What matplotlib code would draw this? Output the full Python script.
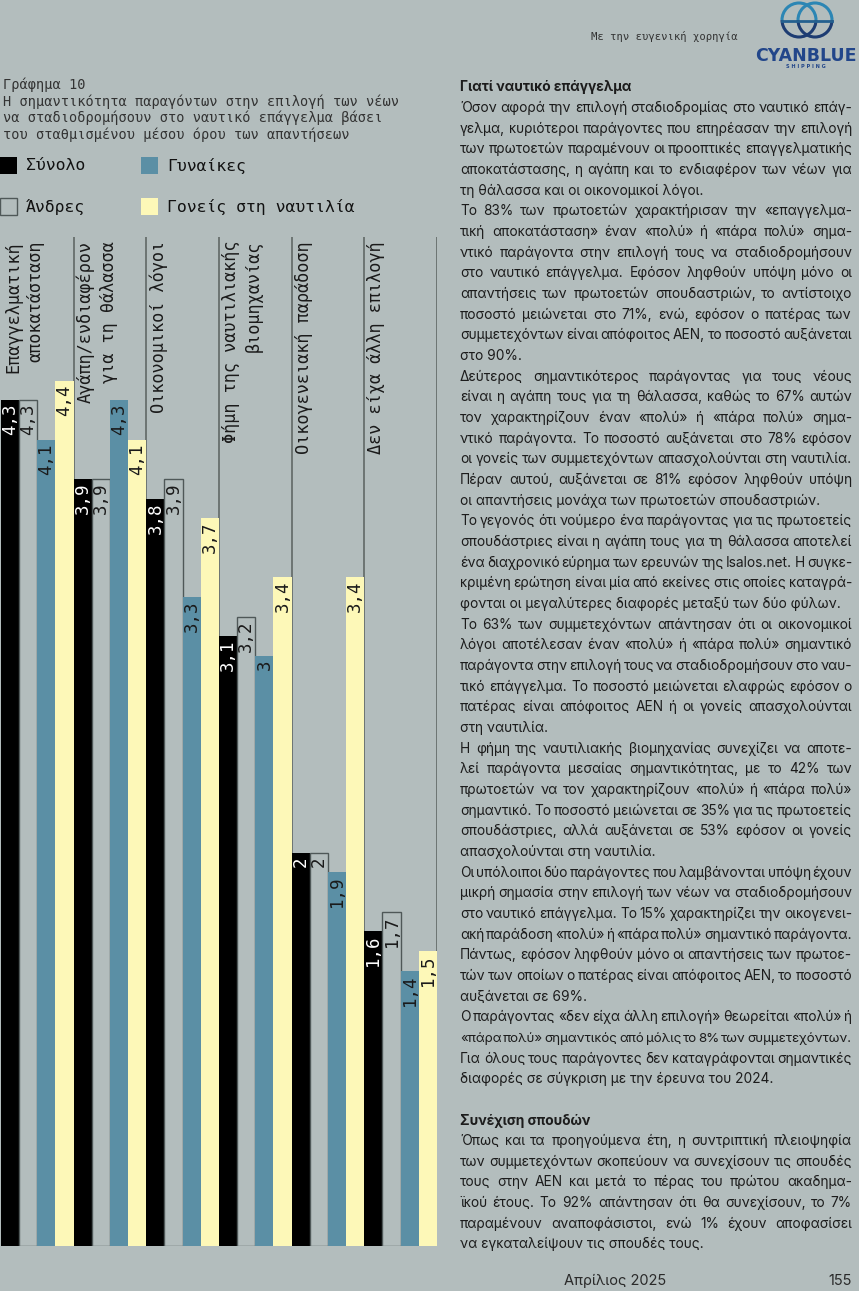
import numpy as np
import matplotlib.pyplot as plt
from matplotlib.patches import Rectangle, Arc
from matplotlib.font_manager import FontProperties

W, H = 859, 1291
BG = "#b3bdbd"

categories = ["Επαγγελματική\nαποκατάσταση",
              "Αγάπη/ενδιαφέρον\nγια τη θάλασσα",
              "Οικονομικοί λόγοι",
              "Φήμη της ναυτιλιακής\nβιομηχανίας",
              "Οικογενειακή παράδοση",
              "Δεν είχα άλλη επιλογή"]
series = ["Σύνολο", "Άνδρες", "Γυναίκες", "Γονείς στη ναυτιλία"]
synolo = [4.3, 3.9, 3.8, 3.1, 2.0, 1.6]
andres = [4.3, 3.9, 3.9, 3.2, 2.0, 1.7]
gynaikes = [4.1, 4.3, 3.3, 3.0, 1.9, 1.4]
goneis = [4.4, 4.1, 3.7, 3.4, 3.4, 1.5]

title = ("Γράφημα 10\n"
         "Η σημαντικότητα παραγόντων στην επιλογή των νέων\n"
         "να σταδιοδρομήσουν στο ναυτικό επάγγελμα βάσει\n"
         "του σταθμισμένου μέσου όρου των απαντήσεων")

# body text: (line, kind)  h = heading, j = justified, e = end of paragraph, "" = blank
body = [
    ("Γιατί ναυτικό επάγγελμα", "h"),
    ("Όσον αφορά την επιλογή σταδιοδρομίας στο ναυτικό επάγ-", "j"),
    ("γελμα, κυριότεροι παράγοντες που επηρέασαν την επιλογή", "j"),
    ("των πρωτοετών παραμένουν οι προοπτικές επαγγελματικής", "j"),
    ("αποκατάστασης, η αγάπη και το ενδιαφέρον των νέων για", "j"),
    ("τη θάλασσα και οι οικονομικοί λόγοι.", "e"),
    ("Το 83% των πρωτοετών χαρακτήρισαν την «επαγγελμα-", "j"),
    ("τική αποκατάσταση» έναν «πολύ» ή «πάρα πολύ» σημα-", "j"),
    ("ντικό παράγοντα στην επιλογή τους να σταδιοδρομήσουν", "j"),
    ("στο ναυτικό επάγγελμα. Εφόσον ληφθούν υπόψη μόνο οι", "j"),
    ("απαντήσεις των πρωτοετών σπουδαστριών, το αντίστοιχο", "j"),
    ("ποσοστό μειώνεται στο 71%, ενώ, εφόσον ο πατέρας των", "j"),
    ("συμμετεχόντων είναι απόφοιτος ΑΕΝ, το ποσοστό αυξάνεται", "j"),
    ("στο 90%.", "e"),
    ("Δεύτερος σημαντικότερος παράγοντας για τους νέους", "j"),
    ("είναι η αγάπη τους για τη θάλασσα, καθώς το 67% αυτών", "j"),
    ("τον χαρακτηρίζουν έναν «πολύ» ή «πάρα πολύ» σημα-", "j"),
    ("ντικό παράγοντα. Το ποσοστό αυξάνεται στο 78% εφόσον", "j"),
    ("οι γονείς των συμμετεχόντων απασχολούνται στη ναυτιλία.", "j"),
    ("Πέραν αυτού, αυξάνεται σε 81% εφόσον ληφθούν υπόψη", "j"),
    ("οι απαντήσεις μονάχα των πρωτοετών σπουδαστριών.", "e"),
    ("Το γεγονός ότι νούμερο ένα παράγοντας για τις πρωτοετείς", "j"),
    ("σπουδάστριες είναι η αγάπη τους για τη θάλασσα αποτελεί", "j"),
    ("ένα διαχρονικό εύρημα των ερευνών της Isalos.net. Η συγκε-", "j"),
    ("κριμένη ερώτηση είναι μία από εκείνες στις οποίες καταγρά-", "j"),
    ("φονται οι μεγαλύτερες διαφορές μεταξύ των δύο φύλων.", "e"),
    ("Το 63% των συμμετεχόντων απάντησαν ότι οι οικονομικοί", "j"),
    ("λόγοι αποτέλεσαν έναν «πολύ» ή «πάρα πολύ» σημαντικό", "j"),
    ("παράγοντα στην επιλογή τους να σταδιοδρομήσουν στο ναυ-", "j"),
    ("τικό επάγγελμα. Το ποσοστό μειώνεται ελαφρώς εφόσον ο", "j"),
    ("πατέρας είναι απόφοιτος ΑΕΝ ή οι γονείς απασχολούνται", "j"),
    ("στη ναυτιλία.", "e"),
    ("Η φήμη της ναυτιλιακής βιομηχανίας συνεχίζει να αποτε-", "j"),
    ("λεί παράγοντα μεσαίας σημαντικότητας, με το 42% των", "j"),
    ("πρωτοετών να τον χαρακτηρίζουν «πολύ» ή «πάρα πολύ»", "j"),
    ("σημαντικό. Το ποσοστό μειώνεται σε 35% για τις πρωτοετείς", "j"),
    ("σπουδάστριες, αλλά αυξάνεται σε 53% εφόσον οι γονείς", "j"),
    ("απασχολούνται στη ναυτιλία.", "e"),
    ("Οι υπόλοιποι δύο παράγοντες που λαμβάνονται υπόψη έχουν", "j"),
    ("μικρή σημασία στην επιλογή των νέων να σταδιοδρομήσουν", "j"),
    ("στο ναυτικό επάγγελμα. Το 15% χαρακτηρίζει την οικογενει-", "j"),
    ("ακή παράδοση «πολύ» ή «πάρα πολύ» σημαντικό παράγοντα.", "j"),
    ("Πάντως, εφόσον ληφθούν μόνο οι απαντήσεις των πρωτοε-", "j"),
    ("τών των οποίων ο πατέρας είναι απόφοιτος ΑΕΝ, το ποσοστό", "j"),
    ("αυξάνεται σε 69%.", "e"),
    ("Ο παράγοντας «δεν είχα άλλη επιλογή» θεωρείται «πολύ» ή", "j"),
    ("«πάρα πολύ» σημαντικός από μόλις το 8% των συμμετεχόντων.", "j"),
    ("Για όλους τους παράγοντες δεν καταγράφονται σημαντικές", "j"),
    ("διαφορές σε σύγκριση με την έρευνα του 2024.", "e"),
    ("", ""),
    ("Συνέχιση σπουδών", "h"),
    ("Όπως και τα προηγούμενα έτη, η συντριπτική πλειοψηφία", "j"),
    ("των συμμετεχόντων σκοπεύουν να συνεχίσουν τις σπουδές", "j"),
    ("τους στην ΑΕΝ και μετά το πέρας του πρώτου ακαδημα-", "j"),
    ("ϊκού έτους. Το 92% απάντησαν ότι θα συνεχίσουν, το 7%", "j"),
    ("παραμένουν αναποφάσιστοι, ενώ 1% έχουν αποφασίσει", "j"),
    ("να εγκαταλείψουν τις σπουδές τους.", "e"),
]

colors = ["#000000", BG, "#5b8fa5", "#fdf8b8"]
edges = ["none", "#4f5858", "none", "none"]
label_colors = ["white", "#1a1a1a", "#1a1a1a", "#1a1a1a"]
mono = ["DejaVu Sans Mono"]
sans = ["Inter", "DejaVu Sans"]

fig = plt.figure(figsize=(W / 100, H / 100), dpi=100, facecolor=BG)

# chart axes: baseline at y=1246 px, top of rules at y=237 px
ax = fig.add_axes([1 / W, (H - 1246) / H, 436 / W, (1246 - 237) / H])
ax.set_facecolor(BG)
ax.set_xlim(0, 6)
ax.set_ylim(0, 5.13)
ax.axis("off")

x = np.arange(len(categories))
bw = 0.25
for j, vals in enumerate([synolo, andres, gynaikes, goneis]):
    xs = x + bw / 2 + j * bw
    ax.bar(xs, vals, width=bw, color=colors[j], edgecolor=edges[j],
           linewidth=1.0, zorder=2)
    for xi, v in zip(xs, vals):
        ax.annotate(f"{v:g}".replace(".", ","), (xi, v), xytext=(0, -2.5),
                    textcoords="offset points", rotation=90, ha="center",
                    va="top", fontsize=12.5, family=mono, color=label_colors[j],
                    zorder=3)

for k in range(1, 7):
    ax.axvline(k, color="#59615f", lw=1.1, zorder=1)

for i, cat in enumerate(categories):
    ax.text(i + 0.04, 5.11, cat, rotation=90, ha="left", va="top",
            multialignment="right", linespacing=1.35, fontsize=12.2,
            family=mono, color="#1a1a1a", zorder=3)

# overlay in pixel coordinates for page furniture
ov = fig.add_axes([0, 0, 1, 1], facecolor="none")
ov.set_xlim(0, W)
ov.set_ylim(H, 0)
ov.axis("off")

ov.text(3, 78, title, ha="left", va="top", fontsize=9.8, family=mono,
        linespacing=1.17, color="#333333")

leg_pos = [(0, 166), (0, 207), (141, 166), (141, 207)]
for j, name in enumerate(series):
    lx, ly = leg_pos[j]
    ov.add_patch(Rectangle((lx, ly - 9), 17, 17, facecolor=colors[j],
                           edgecolor=edges[j], lw=1.0))
    ov.text(lx + 26, ly, name, ha="left", va="center", fontsize=11.8,
            family=mono, color="#111111")

# sponsor line and logo
ov.text(738, 37, "Με την ευγενική χορηγία", ha="right", va="center",
        fontsize=7.6, family=mono, color="#333333")
for cx in (799, 815):
    ov.add_patch(Arc((cx, 20), 34, 34, theta1=0, theta2=180, color="#1d3c72", lw=2.2))
    ov.add_patch(Arc((cx, 20), 34, 34, theta1=180, theta2=360, color="#2c86b4", lw=2.2))
ov.plot([782, 832], [21, 21], color="#24608f", lw=2.0)
ov.text(806, 56, "CYANBLUE", ha="center", va="center", fontsize=12.5,
        fontweight="heavy", family=["DejaVu Sans"], color="#22468a")
ov.text(806, 67, "S H I P P I N G", ha="center", va="center", fontsize=3.6,
        fontweight="bold", family=["DejaVu Sans"], color="#22468a")

# body text column, justified
renderer = fig.canvas.get_renderer()
body_size = 9.9
min_gap = 1.5
p_reg = FontProperties(family=sans, size=body_size)
p_bold = FontProperties(family=sans, size=body_size, weight="bold")
x0, x1 = 460, 852
step = 20.66
for k, (line, kind) in enumerate(body):
    yb = 87 + k * step + 4.5
    if not line:
        continue
    if kind in ("h", "e"):
        ov.text(x0, yb, line, ha="left", va="baseline",
                fontproperties=p_bold if kind == "h" else p_reg, color="#1c1c1c")
        continue
    words = line.split(" ")
    prop = p_reg
    widths = [renderer.get_text_width_height_descent(w, prop, ismath=False)[0]
              for w in words]
    gap = (x1 - x0 - sum(widths)) / (len(words) - 1)
    if gap < min_gap:
        # tight line: shrink the type slightly so it still fits
        scale = (x1 - x0 - min_gap * (len(words) - 1)) / sum(widths)
        prop = FontProperties(family=sans, size=body_size * scale)
        widths = [wd * scale for wd in widths]
        gap = min_gap
    xc = x0
    for w, wd in zip(words, widths):
        ov.text(xc, yb, w, ha="left", va="baseline", fontproperties=prop,
                color="#1c1c1c")
        xc += wd + gap

ov.text(615, 1281, "Απρίλιος 2025", ha="center", va="center", fontsize=10.5,
        family=sans, color="#2a2a2a")
ov.text(852, 1281, "155", ha="right", va="center", fontsize=10.5,
        family=sans, color="#2a2a2a")

fig.savefig("out.png", dpi=100, facecolor=BG)
